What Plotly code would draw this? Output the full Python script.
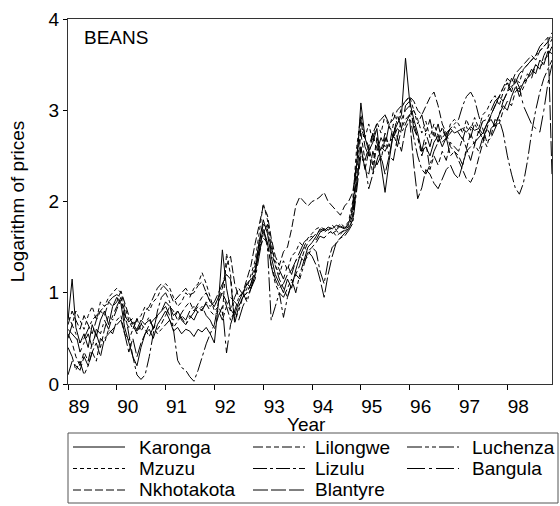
import pandas as pd
import plotly.graph_objects as go

MONTHS = pd.date_range("1989-01-01", periods=120, freq="MS")
YEAR_TICKS = [f"{y}-01-01" for y in range(1989, 1999)]
YEAR_LABELS = ["89", "90", "91", "92", "93", "94", "95", "96", "97", "98"]

karonga = [
    0.70, 1.15, 0.62, 0.45, 0.55, 0.40, 0.65, 0.52, 0.70, 0.80, 0.65, 0.85,
    0.95, 0.88, 0.62, 0.45, 0.30, 0.20, 0.40, 0.55, 0.60, 0.50, 0.65, 0.72,
    0.80, 0.70, 0.58, 0.62, 0.55, 0.60, 0.58, 0.52, 0.60, 0.57, 0.62, 0.55,
    0.45, 0.90, 1.47, 1.05, 0.82, 0.75, 0.90, 1.00, 1.10, 1.05, 1.20, 1.55,
    1.80, 1.65, 1.40, 1.20, 1.10, 1.00, 1.15, 1.05, 1.25, 1.40, 1.35, 1.50,
    1.55, 1.62, 1.70, 1.68, 1.72, 1.70, 1.74, 1.72, 1.70, 1.76, 1.90, 2.40,
    3.08, 2.70, 2.55, 2.65, 2.80, 2.40, 2.10, 2.45, 2.75, 2.85, 2.95, 3.57,
    3.10, 2.90, 2.75, 2.55, 2.60, 2.50, 2.65, 2.72, 2.60, 2.70, 2.80, 2.75,
    2.78, 2.80, 2.76, 2.82, 2.78, 2.80, 2.74, 2.85, 2.90, 2.82, 2.95, 3.05,
    3.00, 3.15, 3.25, 3.20, 3.30, 3.35, 3.45, 3.40, 3.55, 3.50, 3.65, 3.62,
]
lilongwe = [
    0.55, 0.45, 0.30, 0.20, 0.35, 0.25, 0.45, 0.55, 0.40, 0.60, 0.75, 0.70,
    0.82, 0.92, 0.70, 0.62, 0.68, 0.58, 0.66, 0.60, 0.52, 0.62, 0.60, 0.66,
    0.75, 0.85, 0.80, 0.70, 0.78, 0.85, 0.90, 0.80, 0.88, 0.95, 1.00, 0.90,
    0.85, 0.95, 1.00, 0.90, 0.80, 0.95, 1.05, 0.98, 1.10, 1.15, 1.30, 1.55,
    1.75, 1.70, 1.45, 1.30, 1.15, 1.05, 0.95, 1.10, 1.20, 1.30, 1.45, 1.55,
    1.60, 1.65, 1.68, 1.66, 1.70, 1.65, 1.68, 1.64, 1.70, 1.72, 1.85, 2.30,
    2.75, 2.45, 2.60, 2.40, 2.70, 2.55, 2.75, 2.60, 2.85, 2.70, 2.90, 3.00,
    3.05, 2.85, 2.70, 2.50, 2.65, 2.35, 2.50, 2.40, 2.55, 2.45, 2.65, 2.60,
    2.55, 2.70, 2.58, 2.75, 2.62, 2.78, 2.68, 2.80, 2.72, 2.90, 2.85, 3.00,
    3.10, 3.05, 3.20, 3.25, 3.30, 3.40, 3.35, 3.50, 3.45, 3.60, 3.70, 3.78,
]
luchenza = [
    0.40, 0.30, 0.15, 0.25, 0.10, 0.20, 0.35, 0.25, 0.50, 0.45, 0.60, 0.55,
    0.70, 0.75, 0.55, 0.48, 0.60, 0.72, 0.58, 0.66, 0.70, 0.62, 0.55, 0.60,
    0.65, 0.70, 0.62, 0.68, 0.75, 0.70, 0.80, 0.85, 0.78, 0.82, 0.88, 0.80,
    0.75, 0.80, 0.70, 0.85, 0.95, 0.90, 0.85, 0.95, 1.00, 1.10, 1.25, 1.45,
    1.70, 1.55, 1.30, 1.10, 1.00, 0.95, 1.05, 1.15, 1.00, 1.20, 1.35, 1.40,
    1.50, 1.55, 1.62, 1.60, 1.65, 1.68, 1.62, 1.66, 1.68, 1.70, 1.80, 2.20,
    2.60, 2.35, 2.55, 2.30, 2.65, 2.45, 2.70, 2.50, 2.75, 2.60, 2.80, 2.90,
    2.95, 3.00, 2.85, 2.95, 2.75, 2.90, 2.70, 2.85, 2.65, 2.70, 2.50, 2.55,
    2.50, 2.40, 2.58, 2.45, 2.62, 2.55, 2.70, 2.60, 2.80, 2.85, 2.95, 3.10,
    3.20, 3.25, 3.30, 3.15, 3.25, 3.35, 3.40, 3.50, 3.45, 3.55, 3.60, 3.70,
]
mzuzu = [
    0.75, 0.65, 0.80, 0.70, 0.60, 0.75, 0.85, 0.70, 0.90, 0.85, 0.95, 1.00,
    1.05, 1.00, 0.85, 0.70, 0.60, 0.70, 0.75, 0.85, 0.80, 0.90, 0.95, 1.05,
    1.10, 1.05, 0.95, 0.85, 0.90, 1.00, 0.95, 1.05, 1.10, 1.22, 1.10, 0.95,
    0.80, 0.85, 0.75, 1.43, 1.20, 0.70, 0.80, 0.95, 1.05, 1.20, 1.35, 1.65,
    1.98, 1.80, 1.55, 1.30, 1.20, 1.35, 1.25, 1.40, 1.45, 1.55, 1.50, 1.60,
    1.65, 1.70, 1.72, 1.70, 1.68, 1.74, 1.70, 1.76, 1.72, 1.78, 2.00, 2.60,
    2.95, 2.70, 2.85, 2.65, 2.87, 2.75, 2.95, 2.80, 2.98, 2.85, 3.03, 3.10,
    3.15, 3.00, 2.90, 2.75, 2.88, 2.70, 2.85, 2.72, 2.80, 2.68, 2.85, 2.90,
    2.85, 2.75, 2.90, 2.78, 2.92, 2.80, 2.95, 3.00, 3.10, 3.16, 3.05, 3.20,
    3.30, 3.25, 3.35, 3.30, 3.45, 3.50, 3.55, 3.60, 3.65, 3.70, 3.75, 3.85,
]
lizulu = [
    0.60, 0.55, 0.50, 0.45, 0.50, 0.60, 0.70, 0.75, 0.80, 0.85, 0.90, 0.95,
    0.98, 0.95, 0.80, 0.55, 0.30, 0.10, 0.05, 0.10, 0.30, 0.55, 0.80, 0.95,
    1.00, 0.90, 0.60, 0.26, 0.18, 0.15, 0.08, 0.03, 0.15, 0.30, 0.44, 0.55,
    0.65, 0.90, 1.00, 0.85, 0.70, 0.80, 0.95, 1.00, 0.90, 1.05, 1.20, 1.50,
    1.70, 1.50, 0.70, 0.85, 1.00, 0.73, 0.95, 1.10, 1.20, 1.15, 1.30, 1.45,
    1.50, 1.45, 1.24, 1.10, 1.35, 1.50, 1.54, 1.60, 1.62, 1.68, 1.76, 2.10,
    2.50, 2.40, 2.14, 2.30, 2.45, 2.60, 2.55, 2.65, 2.70, 2.80, 2.75, 2.85,
    2.95, 2.70, 2.50, 2.35, 2.30, 2.40, 2.55, 2.65, 2.70, 2.75, 2.80, 2.85,
    2.90, 3.05, 3.15, 3.20, 3.12, 2.94, 2.80, 2.65, 2.70, 2.80, 2.90, 2.75,
    2.50, 2.30, 2.15, 2.08, 2.20, 2.45, 2.75, 3.00, 3.20, 3.35, 3.45, 3.55,
]
bangula = [
    0.50, 0.65, 0.55, 0.35, 0.45, 0.55, 0.40, 0.60, 0.55, 0.70, 0.60, 0.75,
    0.85, 0.95, 0.75, 0.68, 0.72, 0.60, 0.70, 0.65, 0.74, 0.60, 0.75, 0.80,
    0.85, 0.75, 0.70, 0.80, 0.72, 0.65, 0.75, 0.70, 0.80, 0.85, 0.75, 0.70,
    0.60, 0.75, 0.85, 0.34, 0.65, 0.80, 0.70, 0.85, 0.95, 1.05, 1.15, 1.40,
    1.65, 1.75, 1.50, 1.35, 1.25, 1.15, 1.30, 1.20, 1.35, 1.45, 1.55, 1.60,
    1.62, 1.58, 1.66, 1.70, 1.67, 1.72, 1.69, 1.73, 1.71, 1.74, 1.95, 2.50,
    2.90, 2.60, 2.50, 2.75, 2.55, 2.70, 2.60, 2.85, 2.70, 2.95, 2.80, 3.05,
    3.10, 2.80, 2.70, 2.55, 2.75, 2.60, 2.78, 2.65, 2.82, 2.70, 2.75, 2.82,
    2.75, 2.68, 2.82, 2.70, 2.86, 2.75, 2.88, 2.90, 3.00, 3.10, 3.15, 3.25,
    3.30, 3.20, 3.35, 3.25, 3.05, 2.94, 2.85, 2.80, 2.76, 3.00, 3.30, 3.50,
]
nkhotakota = [
    0.65, 0.80, 0.70, 0.60, 0.75, 0.65, 0.55, 0.70, 0.80, 0.75, 0.90, 0.85,
    0.90, 1.02, 0.90, 0.75, 0.65, 0.55, 0.65, 0.80, 0.85, 0.95, 1.05, 1.10,
    1.05, 1.00, 0.90, 0.95, 1.00, 1.05, 0.98, 1.00, 1.08, 1.12, 1.00, 0.90,
    0.85, 0.95, 1.05, 1.30, 1.40, 1.10, 0.95, 1.00, 1.15, 1.30, 1.54, 1.75,
    1.95, 1.85, 1.60, 1.40, 1.30, 1.45, 1.50, 1.70, 1.95, 2.05, 2.00, 1.95,
    2.00, 2.02, 2.05, 2.10, 2.00, 1.95, 1.90, 1.85, 1.95, 2.00, 2.10, 2.40,
    2.80, 2.70, 2.60, 2.75, 2.85, 2.90, 2.95, 2.85, 2.90, 3.00, 3.05, 3.10,
    3.15, 3.10, 3.00, 2.95, 3.05, 3.14, 3.20, 3.05, 2.85, 2.75, 2.60, 2.55,
    2.45, 2.35, 2.25, 2.21, 2.30, 2.48, 2.65, 2.80, 2.95, 3.05, 3.15, 3.25,
    3.35, 3.30, 3.40, 3.45, 3.50, 3.55, 3.60, 3.55, 3.65, 3.70, 3.75, 3.80,
]
blantyre = [
    0.10, 0.25, 0.20, 0.15, 0.30, 0.20, 0.35, 0.45, 0.30, 0.50, 0.55, 0.60,
    0.65, 0.70, 0.55, 0.35, 0.50, 0.30, 0.45, 0.55, 0.65, 0.70, 0.75, 0.80,
    0.90, 0.85, 0.75, 0.80, 0.70, 0.65, 0.72, 0.78, 0.85, 0.80, 0.90, 0.85,
    0.90, 1.00, 1.10, 1.20, 1.15, 0.66, 0.85, 0.95, 1.00, 1.10, 1.25, 1.45,
    1.60, 1.55, 1.30, 1.15, 1.05, 1.10, 1.20, 1.25, 1.35, 1.40, 1.50, 1.45,
    1.40, 1.30, 1.15, 0.95, 1.20, 1.40, 1.55, 1.60, 1.65, 1.70, 1.80, 2.20,
    2.60, 2.35, 2.30, 2.55, 2.40, 2.50, 2.30, 2.50, 2.45, 2.70, 2.55, 2.80,
    2.90, 2.40, 2.03, 2.15, 2.35, 2.30, 2.20, 2.14, 2.25, 2.35, 2.40, 2.30,
    2.25, 2.40, 2.55, 2.60, 2.65, 2.70, 2.75, 2.85, 2.95, 3.05, 3.15, 3.10,
    3.20, 3.35, 3.30, 3.40, 3.45, 3.50, 3.55, 3.60, 3.70, 3.75, 3.80, 2.29,
]

SERIES = [
    ("Karonga", karonga, "solid"),
    ("Lilongwe", lilongwe, "10px,3px,5px,3px,5px,3px"),
    ("Luchenza", luchenza, "15px,3px,4px,3px,4px,3px"),
    ("Mzuzu", mzuzu, "4px,3px"),
    ("Lizulu", lizulu, "14px,3px,3px,3px"),
    ("Bangula", bangula, "18px,4px,3px,4px"),
    ("Nkhotakota", nkhotakota, "8px,3px"),
    ("Blantyre", blantyre, "15px,3px"),
]

FONT = "Arial, Liberation Sans, sans-serif"
L, R, T, B = 68, 8, 19, 122
W, H = 560, 506
PW, PH = W - L - R, H - T - B

fig = go.Figure()
for name, vals, dash in SERIES:
    fig.add_trace(go.Scatter(
        x=MONTHS, y=vals, mode="lines", name=name,
        line=dict(color="black", width=1, dash=dash),
        showlegend=False,
    ))

def px_to_paper(xp, yp):
    return (xp - L) / PW, (H - B - yp) / PH

shapes = []
annotations = []
x0, y0 = px_to_paper(68, 433)
x1, y1 = px_to_paper(558, 503)
shapes.append(dict(type="rect", xref="paper", yref="paper", x0=x0, y0=y0, x1=x1, y1=y1,
                   line=dict(color="#555555", width=1)))
cols = [(73, 125, 137), (253, 305, 313), (407, 459, 470)]
rows = [447, 468.5, 490]
for i, (name, vals, dash) in enumerate(SERIES):
    r, c = divmod(i, 3)
    sx0, sx1, tx = cols[c]
    yy = rows[r]
    a0, b0 = px_to_paper(sx0, yy)
    a1, _ = px_to_paper(sx1, yy)
    shapes.append(dict(type="line", xref="paper", yref="paper", x0=a0, y0=b0, x1=a1, y1=b0,
                       line=dict(color="black", width=1, dash=dash)))
    ta, tb = px_to_paper(tx, yy)
    annotations.append(dict(text=name, xref="paper", yref="paper", x=ta, y=tb,
                            xanchor="left", yanchor="middle", showarrow=False,
                            font=dict(family=FONT, size=19, color="black")))

ba, bb = px_to_paper(82, 37)
annotations.append(dict(text="BEANS", xref="paper", yref="paper", x=ba, y=bb,
                        xanchor="left", yanchor="middle", showarrow=False,
                        font=dict(family=FONT, size=19, color="black")))
ya, yb = px_to_paper(306, 424)
annotations.append(dict(text="Year", xref="paper", yref="paper", x=ya, y=yb,
                        xanchor="center", yanchor="middle", showarrow=False,
                        font=dict(family=FONT, size=19, color="black")))

fig.update_layout(
    width=W, height=H,
    margin=dict(l=L, r=R, t=T, b=B, autoexpand=False),
    paper_bgcolor="white", plot_bgcolor="white",
    font=dict(family=FONT, size=19, color="black"),
    shapes=shapes, annotations=annotations,
    xaxis=dict(
        range=[MONTHS[0], MONTHS[-1]], type="date",
        tickvals=YEAR_TICKS, ticktext=YEAR_LABELS,
        ticks="outside", ticklen=5, tickwidth=1, tickcolor="black",
        ticklabelshift=11,
        showgrid=False, zeroline=False,
        showline=True, linecolor="#333333", linewidth=1, mirror=True,
        tickfont=dict(size=19),
    ),
    yaxis=dict(
        range=[0, 4], tickvals=[0, 1, 2, 3, 4],
        ticks="outside", ticklen=4, tickwidth=1, tickcolor="black",
        showgrid=False, zeroline=False,
        showline=True, linecolor="#333333", linewidth=1, mirror=True,
        title=dict(text="Logarithm of prices", standoff=18, font=dict(size=19)),
        tickfont=dict(size=19),
    ),
)

fig.write_html(
    "out.html",
    config={"displayModeBar": False},
    post_script="document.body.style.margin='0';document.body.style.padding='0';",
)
